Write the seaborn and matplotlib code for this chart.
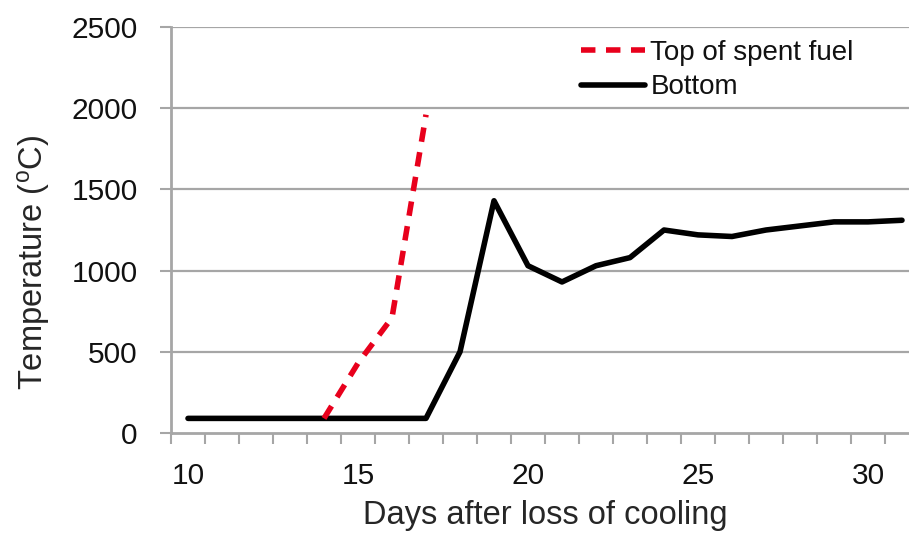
import matplotlib
matplotlib.use("Agg")
import matplotlib.pyplot as plt
import numpy as np
import pandas as pd
import seaborn as sns

# Данные
days_bottom = list(range(10, 32))
temp_bottom = [90, 90, 90, 90, 90, 90, 90, 90, 500, 1430, 1030, 930, 1030, 1080,
               1250, 1220, 1210, 1250, 1275, 1300, 1300, 1310]
days_top = [14, 15, 16, 17]
temp_top = [90, 430, 710, 1960]
x_ticks = [10, 15, 20, 25, 30]
y_ticks = [0, 500, 1000, 1500, 2000, 2500]

df_bottom = pd.DataFrame({"day": days_bottom, "temp": temp_bottom})
df_top = pd.DataFrame({"day": days_top, "temp": temp_top})

sns.set_style("white")
plt.rcParams['font.family'] = ['Liberation Sans', 'DejaVu Sans']
plt.rcParams['mathtext.default'] = 'regular'
plt.rcParams['text.color'] = '#111111'
plt.rcParams['xtick.color'] = '#111111'
plt.rcParams['ytick.color'] = '#111111'

fig = plt.figure(figsize=(9.09, 5.33), dpi=100)
ax = fig.add_axes([171 / 909, 1 - 433 / 533, (919 - 171) / 909, (433 - 27) / 533])

grid_c = '#a6a6a6'
for y in y_ticks[1:]:
    ax.axhline(y, color=grid_c, lw=1.6, zorder=0)

sns.lineplot(data=df_top, x="day", y="temp", ax=ax, color='#e8001c', lw=4.0,
             dashes=False, linestyle=(0, (2.6, 1.9)), label='Top of spent fuel', zorder=3)
sns.lineplot(data=df_bottom, x="day", y="temp", ax=ax, color='black', lw=4.0,
             label='Bottom', zorder=2)

ax.set_xlim(9.5, 31.5)
ax.set_ylim(0, 2500)

ax.set_xticks(x_ticks)
ax.set_xticks(np.arange(9.5, 32, 1), minor=True)
ax.set_yticks(y_ticks)
ax.tick_params(axis='x', which='major', bottom=True, length=0, labelsize=21.5, pad=21)
ax.tick_params(axis='x', which='minor', bottom=True, length=8, width=1.5,
               color=grid_c, direction='out')
ax.tick_params(axis='y', left=True, length=8, width=1.5, color=grid_c,
               labelcolor='#111111', labelsize=21.5, pad=16)

for s in ['top', 'right']:
    ax.spines[s].set_visible(False)
for s in ['left', 'bottom']:
    ax.spines[s].set_color(grid_c)
    ax.spines[s].set_linewidth(2)

ax.set_xlabel('Days after loss of cooling', fontsize=23.5, labelpad=7)
ax.set_ylabel('Temperature ($^{o}$C)', fontsize=23.5)
ax.yaxis.set_label_coords(-0.159, 0.42)

leg = ax.legend(loc='upper left', bbox_to_anchor=(581 / 909, 1 - 40 / 533),
                bbox_transform=fig.transFigure, frameon=False, fontsize=20,
                handlelength=2.3, handletextpad=0.2, labelspacing=0.3,
                borderaxespad=0, borderpad=0)

plt.savefig('out.png', dpi=100)
